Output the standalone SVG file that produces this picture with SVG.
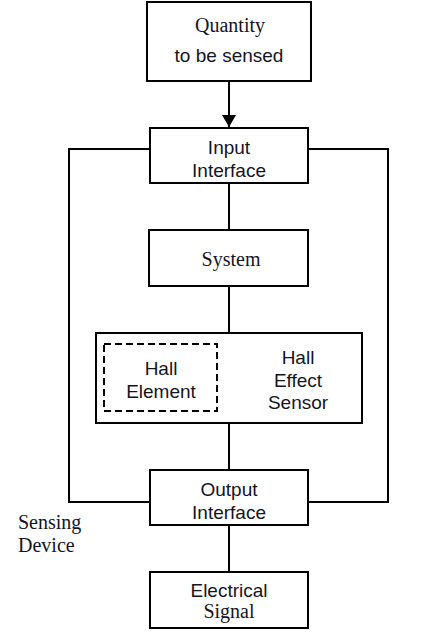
<svg xmlns="http://www.w3.org/2000/svg" width="448" height="633" viewBox="0 0 448 633">
<style>
.box{fill:#fff;stroke:#000;stroke-width:2}
.dash{fill:none;stroke:#000;stroke-width:2;stroke-dasharray:7 4}
.ln{fill:none;stroke:#000;stroke-width:2}
.s{font-family:"Liberation Sans",Arial,sans-serif;font-size:19px;fill:#14141e;text-anchor:middle}
.r{font-family:"Liberation Serif","Times New Roman",serif;font-size:20px;fill:#14141e;text-anchor:middle}
</style>
<defs>
<marker id="ah" markerWidth="12" markerHeight="14" refX="12" refY="7" orient="auto" markerUnits="userSpaceOnUse">
<path d="M0,0 L12,7 L0,14 Z" fill="#000"/>
</marker>
</defs>
<rect width="448" height="633" fill="#fff"/>
<g id="connectors">
<line class="ln" x1="229" y1="81" x2="229" y2="127" marker-end="url(#ah)"/>
<line class="ln" x1="229" y1="183" x2="229" y2="230"/>
<line class="ln" x1="229" y1="286" x2="229" y2="333"/>
<line class="ln" x1="229" y1="423" x2="229" y2="470"/>
<line class="ln" x1="229" y1="525" x2="229" y2="572"/>
<polyline class="ln" points="150,149 69,149 69,502 150,502"/>
<polyline class="ln" points="308,149 388,149 388,502 308,502"/>
</g>
<g id="quantity">
<rect class="box" x="147" y="2" width="164" height="79"/>
<text class="r" x="230" y="32">Quantity</text>
<text class="s" x="229" y="62">to be sensed</text>
</g>
<g id="input">
<rect class="box" x="150" y="128" width="158" height="55"/>
<text class="s" x="229" y="154">Input</text>
<text class="s" x="229" y="177">Interface</text>
</g>
<g id="system">
<rect class="box" x="149" y="230" width="159" height="56"/>
<text class="r" x="231" y="266">System</text>
</g>
<g id="sensor">
<rect class="box" x="96" y="333" width="266" height="90"/>
<text class="s" x="298" y="364">Hall</text>
<text class="s" x="298" y="387">Effect</text>
<text class="s" x="298" y="409">Sensor</text>
</g>
<g id="element">
<rect class="dash" x="104" y="344" width="113" height="67"/>
<text class="s" x="161" y="375">Hall</text>
<text class="s" x="161" y="398">Element</text>
</g>
<g id="output">
<rect class="box" x="150" y="470" width="158" height="55"/>
<text class="s" x="229" y="496">Output</text>
<text class="s" x="229" y="519">Interface</text>
</g>
<g id="signal">
<rect class="box" x="150" y="572" width="158" height="56"/>
<text class="s" x="229" y="597">Electrical</text>
<text class="r" x="229" y="618">Signal</text>
</g>
<g id="label">
<text class="r" x="18" y="529" style="text-anchor:start">Sensing</text>
<text class="r" x="18" y="552" style="text-anchor:start">Device</text>
</g>
</svg>
